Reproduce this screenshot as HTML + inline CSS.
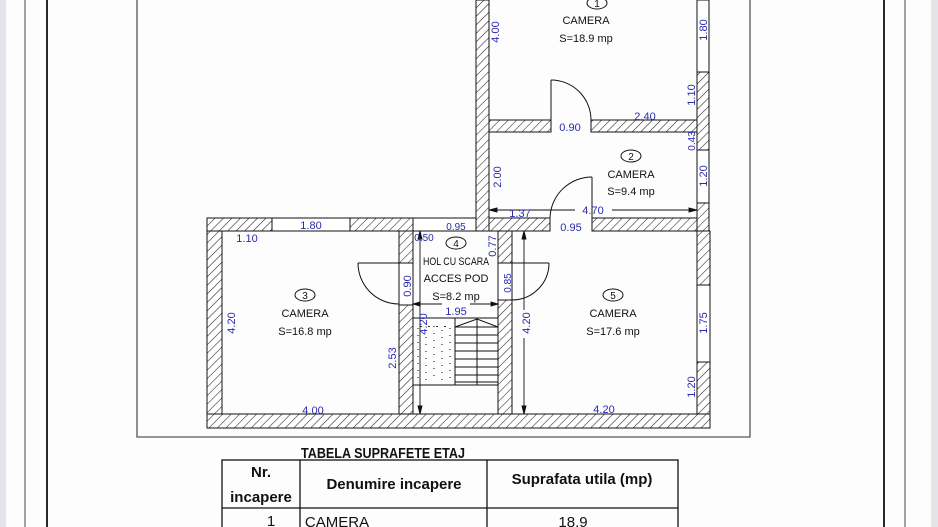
<!DOCTYPE html>
<html><head><meta charset="utf-8"><style>
html,body{margin:0;padding:0;background:#fff;}
svg{display:block;}
text{font-family:"Liberation Sans",sans-serif;}
.b{fill:#2a2ab0;font-size:11px;}
.k{fill:#111;font-size:11px;}
</style></head><body>
<svg width="938" height="527" viewBox="0 0 938 527" xmlns="http://www.w3.org/2000/svg">
<defs>
<pattern id="h" width="6" height="6" patternUnits="userSpaceOnUse" patternTransform="rotate(45)">
<rect width="6" height="6" fill="#fff"/><line x1="0" y1="0" x2="0" y2="6" stroke="#222" stroke-width="1.1"/>
</pattern>
</defs>
<rect width="938" height="527" fill="#fdfdfd"/>
<rect x="0" y="0" width="6" height="527" fill="#e4e4ea"/>
<rect x="931" y="0" width="7" height="527" fill="#e4e4ea"/>
<line x1="25" y1="0" x2="25" y2="527" stroke="#666" stroke-width="1.2"/>
<line x1="47" y1="0" x2="47" y2="527" stroke="#111" stroke-width="1.8"/>
<line x1="884" y1="0" x2="884" y2="527" stroke="#111" stroke-width="1.8"/>
<line x1="905" y1="0" x2="905" y2="527" stroke="#666" stroke-width="1.2"/>
<polyline points="137,0 137,437 750,437 750,0" fill="none" stroke="#555" stroke-width="1.3"/>

<g stroke="#111" stroke-width="1" fill="url(#h)">
<!-- left wall rooms 1,2 -->
<rect x="476" y="0" width="13" height="231"/>
<!-- room1 right wall -->
<rect x="697" y="0" width="12" height="72" fill="#fff"/>
<rect x="697" y="72" width="12" height="78"/>
<rect x="697" y="150" width="12" height="53" fill="#fff"/>
<rect x="697" y="203" width="12" height="28"/>
<!-- wall 1/2 -->
<rect x="489" y="120" width="62" height="12"/>
<rect x="591" y="120" width="106" height="12"/>
<!-- wall 2/5 -->
<rect x="489" y="218" width="61" height="13"/>
<rect x="592" y="218" width="105" height="13"/>
<!-- top of 3/4 -->
<rect x="207" y="218" width="65" height="13"/>
<rect x="272" y="218" width="78" height="13" fill="#fff"/>
<rect x="350" y="218" width="63" height="13"/>
<rect x="413" y="218" width="63" height="13" fill="#fff"/>
<!-- room3 left -->
<rect x="207" y="231" width="15" height="183"/>
<!-- bottom -->
<rect x="207" y="414" width="503" height="14"/>
<!-- wall 3/4 -->
<rect x="399" y="231" width="14" height="32"/>
<rect x="399" y="305" width="14" height="109"/>
<rect x="399" y="263" width="14" height="42" fill="#fff"/>
<!-- wall 4/5 -->
<rect x="498" y="231" width="14" height="32"/>
<rect x="498" y="300" width="14" height="114"/>
<rect x="498" y="263" width="14" height="37" fill="#fff"/>
<!-- room5 right -->
<rect x="697" y="231" width="13" height="54"/>
<rect x="697" y="285" width="13" height="77" fill="#fff"/>
<rect x="697" y="362" width="13" height="52"/>
</g>

<g fill="none" stroke="#111" stroke-width="1">
<!-- doors -->
<line x1="551" y1="80" x2="551" y2="120"/><path d="M551,80 A40,40 0 0 1 591,120"/>
<line x1="592" y1="177" x2="592" y2="218"/><path d="M592,177 A42,42 0 0 0 550,218"/>
<line x1="358" y1="263" x2="399" y2="263"/><path d="M358,263 A41,41 0 0 0 399,304"/>
<line x1="512" y1="263" x2="549" y2="263"/><path d="M549,263 A37,37 0 0 1 512,300"/>
<!-- stairs -->
<line x1="413" y1="318" x2="498" y2="318"/>
<line x1="413" y1="385" x2="498" y2="385"/>
<line x1="455" y1="318" x2="455" y2="385"/>
<line x1="477" y1="318" x2="477" y2="385"/>
<polyline points="455,327 477,319 498,327"/>
<path d="M455,327H498M455,335H498M455,343H498M455,351H498M455,359H498M455,367H498M455,375H498M455,382H498"/>
</g>
<g fill="#333">
<path d="M420,326h2v1h-2zM428,326h2v1h-2zM436,326h2v1h-2zM444,326h2v1h-2z"/>
</g>
<g stroke="#333" stroke-width="1.2" stroke-dasharray="1,6">
<line x1="418" y1="328" x2="418" y2="382"/><line x1="426" y1="330" x2="426" y2="382"/><line x1="434" y1="326" x2="434" y2="382"/><line x1="442" y1="330" x2="442" y2="382"/><line x1="450" y1="328" x2="450" y2="382"/>
</g>
<!-- dimension lines -->
<g stroke="#111" stroke-width="0.9" fill="#111">
<line x1="489" y1="210" x2="575" y2="210"/><line x1="612" y1="210" x2="697" y2="210"/>
<path d="M489,210l8,-2v4z"/><path d="M697,210l-8,-2v4z"/>
<line x1="413" y1="304" x2="442" y2="304"/><line x1="470" y1="304" x2="498" y2="304"/>
<path d="M413,304l7,-2v4z"/><path d="M498,304l-7,-2v4z"/>
<line x1="420" y1="231" x2="420" y2="414"/>
<path d="M420,231l-2,8h4z"/><path d="M420,414l-2,-8h4z"/>
<line x1="524" y1="231" x2="524" y2="310"/><line x1="524" y1="338" x2="524" y2="414"/>
<path d="M524,231l-2,8h4z"/><path d="M524,414l-2,-8h4z"/>
</g>
<!-- room labels -->
<g class="k" text-anchor="middle">
<ellipse cx="597" cy="3" rx="10" ry="6" fill="none" stroke="#111"/>
<text x="597" y="7" font-size="10">1</text>
<text x="586" y="24">CAMERA</text><text x="586" y="42">S=18.9 mp</text>
<ellipse cx="631" cy="156" rx="10" ry="6" fill="none" stroke="#111"/>
<text x="631" y="160" font-size="10">2</text>
<text x="631" y="178">CAMERA</text><text x="631" y="195">S=9.4 mp</text>
<ellipse cx="305" cy="295" rx="10" ry="6" fill="none" stroke="#111"/>
<text x="305" y="299" font-size="10">3</text>
<text x="305" y="317">CAMERA</text><text x="305" y="335">S=16.8 mp</text>
<ellipse cx="456" cy="243" rx="10" ry="6" fill="none" stroke="#111"/>
<text x="456" y="247" font-size="10">4</text>
<text x="456" y="265" textLength="66" lengthAdjust="spacingAndGlyphs">HOL CU SCARA</text>
<text x="456" y="282">ACCES POD</text><text x="456" y="300">S=8.2 mp</text>
<ellipse cx="613" cy="295" rx="10" ry="6" fill="none" stroke="#111"/>
<text x="613" y="299" font-size="10">5</text>
<text x="613" y="317">CAMERA</text><text x="613" y="335">S=17.6 mp</text>
</g>
<!-- blue dims -->
<g class="b" text-anchor="middle">
<text x="645" y="120">2.40</text><text x="570" y="131">0.90</text>
<text x="520" y="217">1.37</text><text x="593" y="214">4.70</text><text x="571" y="231">0.95</text>
<text x="311" y="229">1.80</text><text x="247" y="242">1.10</text><text x="313" y="414">4.00</text>
<text x="424" y="241" font-size="10">0.50</text><text x="456" y="230" font-size="10">0.95</text>
<text x="456" y="315">1.95</text><text x="604" y="413">4.20</text>
<text transform="translate(499,32) rotate(-90)">4.00</text>
<text transform="translate(707,30) rotate(-90)">1.80</text>
<text transform="translate(695,95) rotate(-90)">1.10</text>
<text transform="translate(501,177) rotate(-90)">2.00</text>
<text transform="translate(695,141) rotate(-90)" font-size="10">0.43</text>
<text transform="translate(707,176) rotate(-90)">1.20</text>
<text transform="translate(235,323) rotate(-90)">4.20</text>
<text transform="translate(396,358) rotate(-90)">2.53</text>
<text transform="translate(411,286) rotate(-90)">0.90</text>
<text transform="translate(496,246) rotate(-90)">0.77</text>
<text transform="translate(511,283) rotate(-90)" font-size="10">0.85</text>
<text transform="translate(427,324) rotate(-90)">4.20</text>
<text transform="translate(530,323) rotate(-90)">4.20</text>
<text transform="translate(707,323) rotate(-90)">1.75</text>
<text transform="translate(695,387) rotate(-90)">1.20</text>
</g>
<!-- table -->
<text x="383" y="458" text-anchor="middle" font-weight="bold" font-size="15" fill="#111" textLength="164" lengthAdjust="spacingAndGlyphs">TABELA SUPRAFETE ETAJ</text>
<g stroke="#111" stroke-width="1.3" fill="none">
<rect x="222" y="460" width="456" height="80"/>
<line x1="222" y1="508" x2="678" y2="508"/>
<line x1="300" y1="460" x2="300" y2="527"/>
<line x1="487" y1="460" x2="487" y2="527"/>
</g>
<g font-size="15" fill="#111" text-anchor="middle">
<text x="261" y="477" font-weight="bold">Nr.</text>
<text x="261" y="502" font-weight="bold">incapere</text>
<text x="394" y="489" font-weight="bold">Denumire incapere</text>
<text x="582" y="484" font-weight="bold">Suprafata utila (mp)</text>
<text x="271" y="526">1</text>
<text x="337" y="527">CAMERA</text>
<text x="573" y="527">18.9</text>
</g>
</svg>
</body></html>
